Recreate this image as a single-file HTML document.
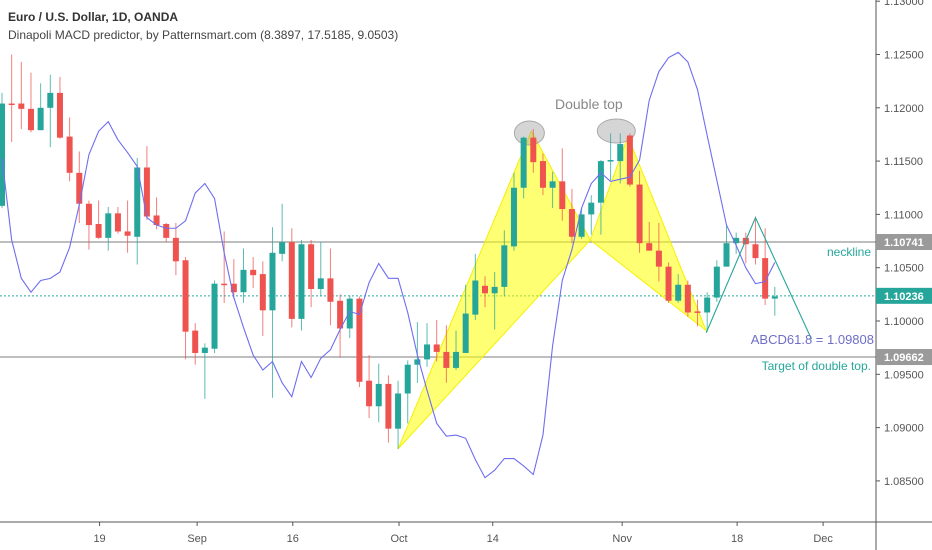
<!DOCTYPE html>
<html><head><meta charset="utf-8"><style>
html,body{margin:0;padding:0;background:#fff;}
svg{display:block;font-family:"Liberation Sans",sans-serif;}
</style></head><body>
<svg id="chart" width="932" height="550" viewBox="0 0 932 550" xmlns="http://www.w3.org/2000/svg">
<rect width="932" height="550" fill="#fff"/>
<g id="grid"></g>
<g id="patterns"></g>
<g id="candles"></g>
<g id="overlay"></g>
<g id="axes"></g>
</svg>
<script>
const opens=[1.1108,1.1204,1.1204,1.1199,1.1179,1.1200,1.1214,1.1173,1.1139,1.1110,1.1091,1.1078,1.1101,1.1084,1.1079,1.1144,1.1099,1.1091,1.1078,1.1057,1.0991,1.0970,1.0974,1.1035,1.1035,1.1027,1.1048,1.1044,1.1010,1.1063,1.1074,1.1002,1.1072,1.1030,1.1040,1.1019,1.0993,1.1021,1.0944,1.0920,1.0941,1.0899,1.0932,1.0959,1.0964,1.0978,1.0971,1.0956,1.0970,1.1006,1.1033,1.1026,1.1032,1.1070,1.1125,1.1172,1.1150,1.1125,1.1131,1.1105,1.1079,1.1100,1.1111,1.1150,1.1150,1.1174,1.1128,1.1073,1.1066,1.1051,1.1019,1.1034,1.1009,1.1008,1.1022,1.1051,1.1073,1.1078,1.1072,1.1059,1.1021];
const highs=[1.1214,1.1250,1.1243,1.1233,1.1223,1.1231,1.1229,1.1191,1.1159,1.1113,1.1113,1.1107,1.1107,1.1113,1.1153,1.1164,1.1116,1.1092,1.1092,1.1060,1.0998,1.0979,1.1038,1.1084,1.1058,1.1068,1.1060,1.1056,1.1088,1.1110,1.1087,1.1076,1.1076,1.1074,1.1068,1.1025,1.1024,1.1023,1.0968,1.0960,1.0949,1.0944,1.0963,1.0999,1.0998,1.1001,1.0996,1.0991,1.1034,1.1063,1.1042,1.1046,1.1085,1.1139,1.1173,1.1180,1.1157,1.1140,1.1162,1.1124,1.1106,1.1118,1.1151,1.1176,1.1176,1.1176,1.1141,1.1093,1.1092,1.1055,1.1044,1.1038,1.1020,1.1027,1.1057,1.1090,1.1083,1.1083,1.1098,1.1087,1.1032];
const lows=[1.1106,1.1168,1.1180,1.1177,1.1179,1.1163,1.1171,1.1131,1.1092,1.1067,1.1077,1.1066,1.1082,1.1064,1.1053,1.1095,1.1086,1.1074,1.1043,1.0964,1.0959,1.0927,1.0970,1.1017,1.1021,1.1017,1.1031,1.0986,1.0928,1.1056,1.0994,1.0991,1.1013,1.1023,1.0996,1.0966,1.0984,1.0938,1.0909,1.0905,1.0886,1.0880,1.0904,1.0942,1.0957,1.0962,1.0942,1.0954,1.0970,1.1001,1.1013,1.0992,1.1023,1.1066,1.1115,1.1139,1.1118,1.1106,1.1094,1.1073,1.1077,1.1081,1.1081,1.1132,1.1129,1.1126,1.1064,1.1066,1.1037,1.1017,1.1017,1.1004,1.0995,1.0990,1.1018,1.1051,1.1063,1.1054,1.1053,1.1015,1.1005];
const closes=[1.1204,1.1203,1.1199,1.1179,1.1200,1.1214,1.1172,1.1139,1.1110,1.1090,1.1078,1.1101,1.1084,1.1080,1.1144,1.1098,1.1090,1.1078,1.1056,1.0990,1.0970,1.0975,1.1035,1.1034,1.1027,1.1048,1.1043,1.1010,1.1064,1.1074,1.1002,1.1072,1.1030,1.1040,1.1018,1.0993,1.1021,1.0943,1.0920,1.0941,1.0899,1.0932,1.0959,1.0964,1.0978,1.0971,1.0956,1.0971,1.1007,1.1038,1.1026,1.1032,1.1071,1.1125,1.1172,1.1149,1.1125,1.1131,1.1105,1.1079,1.1100,1.1111,1.1150,1.1151,1.1166,1.1128,1.1073,1.1066,1.1051,1.1019,1.1034,1.1008,1.1008,1.1022,1.1051,1.1073,1.1078,1.1072,1.1059,1.1021,1.1023];
const macdLine=[1.1153,1.1076,1.1040,1.1027,1.1038,1.1040,1.1046,1.1069,1.1109,1.1156,1.1178,1.1187,1.1170,1.1158,1.1145,1.1097,1.1090,1.1087,1.1087,1.1094,1.1120,1.1129,1.1115,1.1064,1.1022,1.0994,1.0968,1.0954,1.0962,1.0942,1.0929,1.0962,1.0947,1.0965,1.0973,1.0992,1.1009,1.1006,1.1036,1.1054,1.1040,1.1040,1.1008,1.0968,1.0935,1.0904,1.0892,1.0893,1.0890,1.0870,1.0853,1.0860,1.0871,1.0871,1.0864,1.0856,1.0893,1.0977,1.1038,1.1067,1.1106,1.1129,1.1139,1.1131,1.1133,1.1135,1.1151,1.1207,1.1234,1.1247,1.1252,1.1243,1.1217,1.1174,1.1132,1.1090,1.1071,1.1050,1.1035,1.1037,1.1055];
const priceTicks=[1.13,1.125,1.12,1.115,1.11,1.105,1.10,1.095,1.09,1.085];
const dateLabels=["19","Sep","16","Oct","14","Nov","18","Dec"];
const dateIndex=[10.1,20.2,30.1,41.1,50.8,64.2,76.1,85];
const necklinePrice=1.10741, lastPrice=1.10236, targetPrice=1.09662, abcdPrice=1.09808;
const pattern1=[[41,1.0880],[54.8,1.1178],[60.9,1.1076]];
const pattern2=[[60.9,1.1076],[64.8,1.1173],[72.9,1.0991]];
const abcdPts=[[72.9,1.0989],[78,1.1097],[83.8,1.0983]];

const NS="http://www.w3.org/2000/svg";
const xS=i=>2+i*9.66;
const yS=p=>321-(p-1.1)*10660;
function mk(tag,attrs,parent){const e=document.createElementNS(NS,tag);for(const k in attrs)e.setAttribute(k,attrs[k]);parent.appendChild(e);return e;}
const G=id=>document.getElementById(id);

let ln=mk('line',{x1:0,x2:876,y1:yS(necklinePrice),y2:yS(necklinePrice),stroke:'#a8a8a8','stroke-width':1.5},G('grid'));


ln=mk('line',{x1:0,x2:876,y1:yS(targetPrice),y2:yS(targetPrice),stroke:'#a8a8a8','stroke-width':1.5},G('grid'));


ln=mk('line',{x1:0,x2:876,y1:yS(lastPrice),y2:yS(lastPrice),stroke:'#26a69a','stroke-width':1,'stroke-dasharray':'2,2'},G('grid'));



const toPts=a=>a.map(p=>xS(p[0])+','+yS(p[1])).join(' ');
let pg=mk('polygon',{points:toPts(pattern1),fill:'rgba(255,255,0,0.55)',stroke:'#f5f000','stroke-width':1},G('patterns'));


pg=mk('polygon',{points:toPts(pattern2),fill:'rgba(255,255,0,0.55)',stroke:'#f5f000','stroke-width':1},G('patterns'));


let el=mk('ellipse',{cx:xS(54.8)-2,cy:133,rx:15,ry:12,fill:'rgba(150,150,150,0.4)',stroke:'#aaa'},G('patterns'));


el=mk('ellipse',{cx:xS(63.8)-2,cy:131,rx:19,ry:12,fill:'rgba(150,150,150,0.4)',stroke:'#aaa'},G('patterns'));



for(let i=0;i<opens.length;i++){
  const up=closes[i]>=opens[i];const col=up?'#26a69a':'#ef5350';
  const g=mk('g',{},G('candles'));
  
  
  const x=xS(i);
  mk('line',{x1:x,x2:x,y1:yS(highs[i]),y2:yS(lows[i]),stroke:col,'stroke-width':1,'stroke-opacity':0.75},g);
  const t=yS(Math.max(opens[i],closes[i])),b=yS(Math.min(opens[i],closes[i]));
  mk('rect',{x:x-3,y:t,width:6,height:Math.max(1.5,b-t),fill:col},g);
}

const mp=mk('polyline',{points:macdLine.map((v,i)=>xS(i)+','+yS(v)).join(' '),fill:'none',stroke:'#6e6ef0','stroke-width':1.1},G('overlay'));


const ab=mk('polyline',{points:toPts(abcdPts),fill:'none',stroke:'#26a69a','stroke-width':1.1},G('overlay'));



function txt(s,attrs,name,parent){const t=mk('text',attrs,parent||G('overlay'));t.textContent=s;return t;}
txt('Euro / U.S. Dollar, 1D, OANDA',{x:8,y:21,'font-size':12,'font-weight':'bold',fill:'#333'},'chart-title');
txt('Dinapoli MACD predictor, by Patternsmart.com (8.3897, 17.5185, 9.0503)',{x:8,y:39,'font-size':12,fill:'#444'},'indicator-title');
txt('Double top',{x:555,y:109,'font-size':14,fill:'#888'},'double-top-label');
txt('neckline',{x:871,y:256,'font-size':12,fill:'#26a69a','text-anchor':'end'},'neckline-label');
txt('ABCD61.8 = 1.09808',{x:874,y:344,'font-size':13,fill:'#6e6ec8','text-anchor':'end'},'abcd-label');
txt('Target of double top.',{x:871,y:370,'font-size':12,fill:'#26a69a','text-anchor':'end'},'target-label');

const ax=G('axes');
let a=mk('line',{x1:876,x2:876,y1:0,y2:550,stroke:'#555','stroke-width':1},ax);


a=mk('line',{x1:0,x2:932,y1:522,y2:522,stroke:'#555','stroke-width':1},ax);


priceTicks.forEach(p=>{
  const y=yS(p);
  mk('line',{x1:876,x2:880,y1:y,y2:y,stroke:'#555'},ax);
  txt(p.toFixed(5),{x:884,y:y+4,'font-size':11,fill:'#555'},'price-tick-label',ax);
});
dateLabels.forEach((d,k)=>{
  const x=xS(dateIndex[k]);
  mk('line',{x1:x,x2:x,y1:522,y2:526,stroke:'#555'},ax);
  txt(d,{x:x,y:542,'font-size':11,fill:'#555','text-anchor':'middle'},'date-tick-label',ax);
});
function box(p,col,name){
  const y=yS(p);
  const r=mk('rect',{x:876,y:y-8,width:56,height:16,fill:col},ax);
  
  
  txt(p.toFixed(5),{x:884,y:y+4,'font-size':11,'font-weight':'bold',fill:'#fff'},name+'-text',ax);
}
box(necklinePrice,'#9a9a9a','neckline-price-box');
box(lastPrice,'#26a69a','last-price-box');
box(targetPrice,'#9a9a9a','target-price-box');
</script>
</body></html>
